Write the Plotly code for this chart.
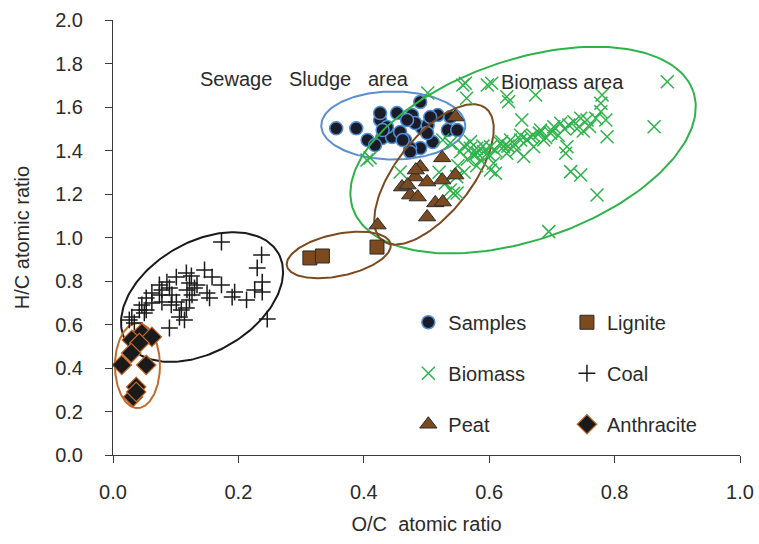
import numpy as np
import plotly.graph_objects as go

# ---------------- data (O/C, H/C atomic ratios) ----------------
samples_oc = [0.356, 0.388, 0.426, 0.406, 0.429, 0.445, 0.458, 0.466, 0.477, 0.490,
              0.493, 0.490, 0.510, 0.518, 0.534, 0.549, 0.453, 0.482, 0.502, 0.437,
              0.418, 0.474, 0.538, 0.426, 0.506, 0.469, 0.430, 0.462, 0.501, 0.474]
samples_hc = [1.502, 1.502, 1.540, 1.448, 1.457, 1.462, 1.485, 1.448, 1.563, 1.623,
              1.503, 1.411, 1.439, 1.563, 1.494, 1.494, 1.572, 1.526, 1.517, 1.508,
              1.425, 1.411, 1.554, 1.572, 1.554, 1.540, 1.494, 1.448, 1.480, 1.393]

biomass_oc = [0.562, 0.564, 0.604, 0.628, 0.631, 0.674, 0.780, 0.778, 0.884, 0.863,
              0.778, 0.786, 0.756, 0.788, 0.724, 0.722, 0.730, 0.746, 0.772, 0.695,
              0.652, 0.650, 0.682, 0.703, 0.714, 0.735, 0.746, 0.634, 0.618, 0.602,
              0.591, 0.580, 0.575, 0.586, 0.607, 0.610, 0.602, 0.628, 0.644, 0.655,
              0.671, 0.687, 0.698, 0.666, 0.623, 0.554, 0.548, 0.543, 0.727, 0.770,
              0.502, 0.410, 0.458, 0.581, 0.538, 0.549, 0.526, 0.558, 0.597, 0.538,
              0.405, 0.590, 0.610, 0.620, 0.640, 0.660, 0.670, 0.690, 0.700, 0.720,
              0.740, 0.750, 0.760, 0.565, 0.570, 0.600, 0.630, 0.650, 0.680, 0.710,
              0.580, 0.530, 0.550, 0.560, 0.520, 0.560, 0.570]
biomass_hc = [1.709, 1.640, 1.709, 1.647, 1.624, 1.655, 1.655, 1.617, 1.716, 1.509,
              1.578, 1.540, 1.540, 1.463, 1.417, 1.387, 1.303, 1.287, 1.195, 1.027,
              1.540, 1.448, 1.494, 1.509, 1.525, 1.532, 1.548, 1.448, 1.433, 1.417,
              1.394, 1.410, 1.379, 1.356, 1.341, 1.295, 1.310, 1.387, 1.402, 1.372,
              1.417, 1.448, 1.479, 1.463, 1.417, 1.394, 1.280, 1.203, 1.517, 1.548,
              1.664, 1.366, 1.301, 1.389, 1.218, 1.205, 1.448, 1.701, 1.701, 1.434,
              1.356, 1.420, 1.400, 1.440, 1.430, 1.450, 1.470, 1.460, 1.490, 1.500,
              1.500, 1.490, 1.510, 1.360, 1.410, 1.380, 1.420, 1.470, 1.480, 1.470,
              1.330, 1.250, 1.330, 1.300, 1.300, 1.420, 1.440]

peat_oc = [0.546, 0.525, 0.490, 0.461, 0.482, 0.501, 0.525, 0.546, 0.474, 0.486,
           0.514, 0.526, 0.501, 0.422, 0.483, 0.470]
peat_hc = [1.554, 1.366, 1.324, 1.232, 1.278, 1.255, 1.264, 1.287, 1.195, 1.186,
           1.159, 1.163, 1.094, 1.057, 1.310, 1.241]

lignite_oc = [0.314, 0.334, 0.421]
lignite_hc = [0.906, 0.915, 0.956]

coal_oc = [0.173, 0.237, 0.230, 0.238, 0.238, 0.226, 0.213, 0.194, 0.190, 0.173,
           0.158, 0.146, 0.150, 0.154, 0.246, 0.090, 0.101, 0.117, 0.122, 0.090,
           0.078, 0.074, 0.062, 0.053, 0.046, 0.042, 0.030, 0.026, 0.034, 0.101,
           0.109, 0.117, 0.106, 0.122, 0.126, 0.130, 0.134, 0.118, 0.093, 0.078,
           0.062, 0.053, 0.050, 0.114, 0.125, 0.094, 0.086, 0.074]
coal_hc = [0.979, 0.920, 0.860, 0.795, 0.749, 0.759, 0.713, 0.749, 0.726, 0.782,
           0.818, 0.851, 0.745, 0.722, 0.625, 0.584, 0.818, 0.837, 0.791, 0.768,
           0.759, 0.736, 0.745, 0.722, 0.690, 0.667, 0.634, 0.621, 0.607, 0.703,
           0.667, 0.676, 0.634, 0.713, 0.736, 0.768, 0.782, 0.759, 0.690, 0.703,
           0.699, 0.667, 0.653, 0.621, 0.823, 0.736, 0.795, 0.782]

anthracite_oc = [0.046, 0.030, 0.062, 0.042, 0.029, 0.014, 0.053, 0.037, 0.032, 0.037]
anthracite_hc = [0.561, 0.529, 0.543, 0.515, 0.469, 0.414, 0.414, 0.313, 0.267, 0.290]

# region ellipses: centre (data units), semi-axes (screen px), rotation (deg)
ell_cx = [0.447, 0.654, 0.512, 0.360, 0.142, 0.039]
ell_cy = [1.515, 1.402, 1.290, 0.920, 0.726, 0.411]
ell_a = [72, 180, 84, 53, 88, 22.5]
ell_b = [34, 90, 38, 21, 55, 42.5]
ell_ang = [0, 19, 52, 12, 30, 0]
ell_col = ["#5b8fd0", "#2db34a", "#7b4a1e", "#7b4a1e", "#1a1a1a", "#c46a2c"]

x_ticks = [0.0, 0.2, 0.4, 0.6, 0.8, 1.0]
y_ticks = [0.0, 0.2, 0.4, 0.6, 0.8, 1.0, 1.2, 1.4, 1.6, 1.8, 2.0]

# ---------------- layout constants ----------------
W, H = 759, 544
ML, MR, MT, MB = 113, 19, 20, 89
XR, YR = [0, 1.0], [0, 2.0]
sx = (W - ML - MR) / (XR[1] - XR[0])
sy = (H - MT - MB) / (YR[1] - YR[0])
FONT = "Liberation Sans, Arial, sans-serif"
TXT = "#2b2b2b"

fig = go.Figure()

fig.add_trace(go.Scatter(
    x=samples_oc, y=samples_hc, mode="markers", name="Samples",
    legend="legend", legendgroup="s",
    marker=dict(symbol="circle", size=13, color="#1c1c28",
                line=dict(color="#4f8fd6", width=1.5))))

t = np.linspace(0, 2 * np.pi, 200)
for cx, cy, a, b, ang, col in zip(ell_cx, ell_cy, ell_a, ell_b, ell_ang, ell_col):
    th = np.deg2rad(ang)
    u, v = a * np.cos(t), b * np.sin(t)
    dx = u * np.cos(th) - v * np.sin(th)
    dy = u * np.sin(th) + v * np.cos(th)
    fig.add_trace(go.Scatter(x=cx + dx / sx, y=cy + dy / sy, mode="lines",
                             line=dict(color=col, width=2), showlegend=False,
                             hoverinfo="skip"))

fig.add_trace(go.Scatter(
    x=biomass_oc, y=biomass_hc, mode="markers", name="Biomass",
    legend="legend", legendgroup="b",
    marker=dict(symbol="x-thin", size=13, line=dict(color="#2db34a", width=1.5))))
fig.add_trace(go.Scatter(
    x=peat_oc, y=peat_hc, mode="markers", name="Peat",
    legend="legend", legendgroup="p",
    marker=dict(symbol="triangle-up", size=15, color="#7a4a20",
                line=dict(color="#2b2b2b", width=1))))
fig.add_trace(go.Scatter(
    x=lignite_oc, y=lignite_hc, mode="markers", name="Lignite",
    legend="legend2", legendgroup="l",
    marker=dict(symbol="square", size=14, color="#7d4a1e",
                line=dict(color="#2b2b2b", width=1))))
fig.add_trace(go.Scatter(
    x=coal_oc, y=coal_hc, mode="markers", name="Coal",
    legend="legend2", legendgroup="c",
    marker=dict(symbol="cross-thin", size=12, line=dict(color="#1a1a1a", width=1.5))))
fig.add_trace(go.Scatter(
    x=anthracite_oc, y=anthracite_hc, mode="markers", name="Anthracite",
    legend="legend2", legendgroup="a",
    marker=dict(symbol="diamond", size=15, color="#1a1a1a",
                line=dict(color="#c46a2c", width=1.2))))

axis_common = dict(showline=True, linecolor="#3a3a3a", linewidth=1,
                   ticks="outside", ticklen=7, tickcolor="#3a3a3a", tickwidth=1,
                   showgrid=False, zeroline=False, tickformat=".1f", automargin=False,
                   tickfont=dict(family=FONT, size=20, color=TXT))

fig.update_layout(
    width=W, height=H, margin=dict(l=ML, r=MR, t=MT, b=MB, autoexpand=False),
    paper_bgcolor="white", plot_bgcolor="white",
    font=dict(family=FONT, size=20, color=TXT),
    xaxis=dict(range=XR, tickvals=x_ticks, ticklabelstandoff=12,
               title=dict(text="O/C\u00a0\u00a0atomic ratio", standoff=14,
                          font=dict(family=FONT, size=20, color=TXT)),
               **axis_common),
    yaxis=dict(range=YR, tickvals=y_ticks, ticklabelstandoff=18,
               title=dict(text="H/C atomic ratio", standoff=20,
                          font=dict(family=FONT, size=20, color=TXT)),
               **axis_common),
    legend=dict(x=0.471, y=0.350, xanchor="left", yanchor="top",
                bgcolor="rgba(0,0,0,0)", tracegroupgap=22,
                font=dict(family=FONT, size=20, color=TXT)),
    legend2=dict(x=0.724, y=0.350, xanchor="left", yanchor="top",
                 bgcolor="rgba(0,0,0,0)", tracegroupgap=22,
                 font=dict(family=FONT, size=20, color=TXT)),
    showlegend=True,
    annotations=[
        dict(x=0.136, y=1.728, xref="x", yref="y", xanchor="left", yanchor="middle",
             text="Sewage\u00a0\u00a0\u00a0Sludge\u00a0\u00a0\u00a0area", showarrow=False,
             font=dict(family=FONT, size=20, color=TXT)),
        dict(x=0.615, y=1.715, xref="x", yref="y", xanchor="left", yanchor="middle",
             text="Biomass area", showarrow=False,
             font=dict(family=FONT, size=20, color=TXT)),
    ],
)

fig.write_html("out.html")
